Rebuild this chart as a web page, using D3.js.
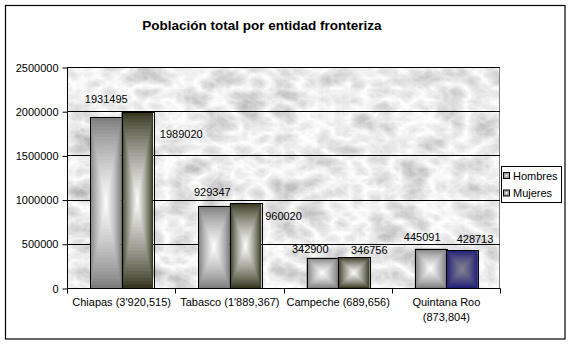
<!DOCTYPE html>
<html><head><meta charset="utf-8">
<script src="https://cdn.jsdelivr.net/npm/d3@7"></script>
<style>body{margin:0;background:#fff}svg{display:block;font-family:"Liberation Sans",Arial,sans-serif}</style>
</head><body><svg id="c" width="571" height="345"></svg>
<script>
const title = "Población total por entidad fronteriza";
const categories = [["Chiapas (3'920,515)"], ["Tabasco (1'889,367)"], ["Campeche (689,656)"], ["Quintana Roo", "(873,804)"]];
const seriesNames = ["Hombres", "Mujeres"];
const hombres = [1931495, 929347, 342900, 445091];
const mujeres = [1989020, 960020, 346756, 428713];
const yTicks = [0, 500000, 1000000, 1500000, 2000000, 2500000];

// layout / styling (not data)
const M = {left: 67, right: 500, top: 67, bottom: 288};
const labelNudge = {
  Hombres: [[0.5,-18],[-1.7,-13.5],[-12,-8.4],[-8.3,-12]],
  Mujeres: [[44,22],[38,12.6],[15.5,-7.3],[13,-10.7]]
};
const edgeColors = {Hombres: ["#7c7c7c","#7c7c7c","#7c7c7c","#7c7c7c"], Mujeres: ["#35351f","#35351f","#35351f","#1c1c78"]};
const centerColors = {Hombres: ["#ffffff","#ffffff","#ffffff","#ffffff"], Mujeres: ["#ffffff","#ffffff","#ffffff","#858590"]};

const svg = d3.select("#c");
const defs = svg.append("defs");
const f = defs.append("filter").attr("id","marble").attr("filterUnits","userSpaceOnUse")
  .attr("x",M.left).attr("y",M.top).attr("width",M.right-M.left).attr("height",M.bottom-M.top);
f.append("feTurbulence").attr("type","turbulence").attr("baseFrequency","0.03 0.045").attr("numOctaves",6).attr("seed",3).attr("result","t");
f.append("feColorMatrix").attr("in","t").attr("type","matrix")
  .attr("values","-0.7 0 0 0 1.05  -0.7 0 0 0 1.05  -0.7 0 0 0 1.06  0 0 0 0 1");

// outer border
svg.append("rect").attr("x",5.5).attr("y",5.5).attr("width",559.5).attr("height",333.5).attr("fill","#fff").attr("stroke","#000").attr("stroke-width",1.2);

svg.append("text").attr("x",262).attr("y",30).attr("text-anchor","middle").attr("font-weight","bold").attr("font-size",13.5).text(title);

const x = d3.scaleBand().domain(d3.range(categories.length)).range([M.left, M.right]);
const xs = d3.scaleBand().domain(seriesNames).range([23, 86]);
const y = d3.scaleLinear().domain([0, 2500000]).range([M.bottom, M.top]);

// plot background
svg.append("rect").attr("x",M.left).attr("y",M.top).attr("width",M.right-M.left).attr("height",M.bottom-M.top).attr("fill","#ddd").attr("filter","url(#marble)");
svg.append("rect").attr("x",M.left+0.5).attr("y",M.top+0.5).attr("width",M.right-M.left-1).attr("height",M.bottom-M.top).attr("fill","none").attr("stroke","#808080");

// gridlines
svg.append("g").selectAll("line").data(yTicks.filter(d=>d>0)).join("line")
  .attr("x1",M.left).attr("x2",M.right).attr("y1",d=>Math.round(y(d))+0.5).attr("y2",d=>Math.round(y(d))+0.5).attr("stroke","#000");

// y axis
const ya = svg.append("g").attr("transform",`translate(${M.left+0.5},0.5)`)
  .call(d3.axisLeft(y).tickValues(yTicks).tickFormat(d3.format("d")).tickSize(5).tickPadding(4));
ya.selectAll("text").attr("font-size",11).attr("font-family","Liberation Sans, Arial").attr("fill","#000");
ya.selectAll("path,line").attr("stroke","#000");
ya.select("path").attr("d",`M0,${y(2500000)}V${y(0)}`);

// x axis
const xa = svg.append("g").attr("transform",`translate(0.5,${M.bottom+0.5})`);
xa.append("line").attr("x1",M.left).attr("x2",M.right).attr("stroke","#000");
xa.selectAll("line.t").data(d3.range(categories.length+1)).join("line").attr("class","t")
  .attr("x1",i=>Math.round(M.left + i*x.step())).attr("x2",i=>Math.round(M.left + i*x.step())).attr("y1",0).attr("y2",5).attr("stroke","#000");
xa.selectAll("text").data(categories).join("text").attr("text-anchor","middle").attr("font-size",11)
  .attr("transform",(d,i)=>`translate(${x(i)+x.bandwidth()/2},17)`)
  .selectAll("tspan").data(d=>d).join("tspan").attr("x",0).attr("dy",(d,j)=>j?15:0).text(d=>d);

// bars as box gradients
const N = 26;
const series = {Hombres: hombres, Mujeres: mujeres};
seriesNames.forEach(s => {
  series[s].forEach((v, i) => {
    const bx = x(i) + xs(s), bw = xs.bandwidth(), by = y(v), bh = y(0) - y(v);
    const g = svg.append("g");
    const col = d3.interpolateRgb(edgeColors[s][i], centerColors[s][i]);
    for (let k = 0; k < N; k++) {
      const t = k / N;
      g.append("rect").attr("x", bx + t*bw/2).attr("y", by + t*bh/2).attr("width", bw*(1-t)).attr("height", bh*(1-t))
        .attr("fill", col(Math.pow(t, 0.8)));
    }
    g.append("rect").attr("x",Math.round(bx)+0.5).attr("y",Math.round(by)+0.5).attr("width",Math.round(bw)).attr("height",Math.round(bh))
      .attr("fill","none").attr("stroke","#000");
    const [dx, dy] = labelNudge[s][i];
    svg.append("text").attr("x", bx + bw/2 + dx).attr("y", by + dy).attr("dy","0.35em").attr("text-anchor","middle").attr("font-size",11).text(v);
  });
});

// legend
const lg = svg.append("g");
lg.append("rect").attr("x",501.5).attr("y",166.5).attr("width",60).attr("height",36).attr("fill","#fff").attr("stroke","#000");
seriesNames.forEach((s, i) => {
  const yy = 176 + i*17.5;
  lg.append("rect").attr("x",503.5).attr("y",yy-3.5).attr("width",6).attr("height",6).attr("fill","#a0a0a0").attr("stroke","#000");
  lg.append("rect").attr("x",505.5).attr("y",yy-1.5).attr("width",2).attr("height",2).attr("fill","#eee");
  lg.append("text").attr("x",513).attr("y",yy).attr("dy","0.35em").attr("font-size",11).text(s);
});
</script></body></html>
